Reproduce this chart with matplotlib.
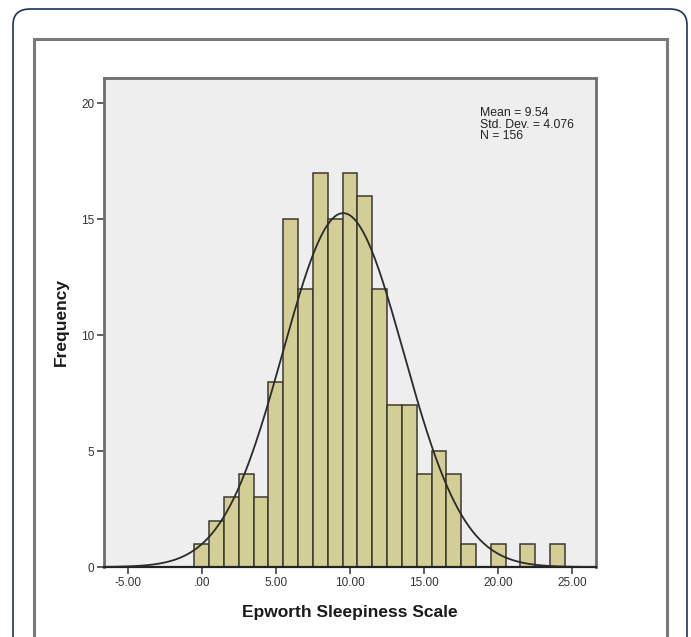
import numpy as np
import matplotlib.pyplot as plt
from matplotlib.patches import FancyBboxPatch, Rectangle

plt.rcParams['font.family'] = ['Liberation Sans', 'DejaVu Sans']

# histogram counts, one bin per score (bin width 1)
scores = np.arange(0, 25)
counts = [1, 2, 3, 4, 3, 8, 15, 12, 17, 15, 17, 16, 12, 7, 7, 4, 5, 4, 1, 0, 1, 0, 1, 0, 1]
mean_val = 9.54
std_val = 4.076
n_val = 156
xticks = [-5, 0, 5, 10, 15, 20, 25]
xtick_labels = ['-5.00', '.00', '5.00', '10.00', '15.00', '20.00', '25.00']
yticks = [0, 5, 10, 15, 20]

W, H = 691, 637
fig = plt.figure(figsize=(W / 100, H / 100), dpi=100)

# outer rounded border and grey chart frame (pixel coords -> figure fraction)
def fx(px):
    return px / W

def fy(py):
    return 1 - py / H

outer = FancyBboxPatch((fx(13), fy(660)), fx(687) - fx(13), fy(9) - fy(660),
                       boxstyle='round,pad=0,rounding_size=0.025',
                       transform=fig.transFigure, fill=False,
                       edgecolor='#1b335a', linewidth=1.2, zorder=0)
fig.patches.append(outer)
frame = Rectangle((fx(34), fy(660)), fx(667) - fx(34), fy(39) - fy(660),
                  transform=fig.transFigure, fill=False,
                  edgecolor='#7a7a7a', linewidth=2.2, zorder=0)
fig.patches.append(frame)

ax = fig.add_axes([fx(104), fy(567), fx(596) - fx(104), fy(78) - fy(567)])
ax.set_facecolor('#eeeeee')

ax.bar(scores, counts, width=1.0, color='#d3ce95', edgecolor='#3a3a32',
       linewidth=1.1, zorder=2)

xs = np.linspace(-6.6, 26.6, 400)
curve = n_val * 1.0 / (std_val * np.sqrt(2 * np.pi)) * np.exp(-0.5 * ((xs - mean_val) / std_val) ** 2)
ax.plot(xs, curve, color='#2a2a2a', linewidth=1.3, zorder=3)

ax.set_xlim(-6.6, 26.6)
ax.set_ylim(0, 21.1)
ax.set_xticks(xticks)
ax.set_xticklabels(xtick_labels)
ax.set_yticks(yticks)
ax.tick_params(axis='both', direction='out', length=5, width=1.2,
               labelsize=8.5, labelcolor='#333333', color='#444444', pad=2)

for side in ['top', 'right', 'left']:
    ax.spines[side].set_color('#6e6e6e')
    ax.spines[side].set_linewidth(2.0)
ax.spines['bottom'].set_color('#222222')
ax.spines['bottom'].set_linewidth(1.6)

ax.set_xlabel('Epworth Sleepiness Scale', fontsize=12.5, fontweight='bold',
              color='#1a1a1a', labelpad=12)
ax.set_ylabel('Frequency', fontsize=12.5, fontweight='bold',
              color='#1a1a1a', labelpad=9)

ax.text(0.765, 0.94, 'Mean = 9.54\nStd. Dev. = 4.076\nN = 156',
        transform=ax.transAxes, ha='left', va='top', fontsize=8.8,
        color='#222222', linespacing=0.95)

fig.savefig('out.png', dpi=100)
